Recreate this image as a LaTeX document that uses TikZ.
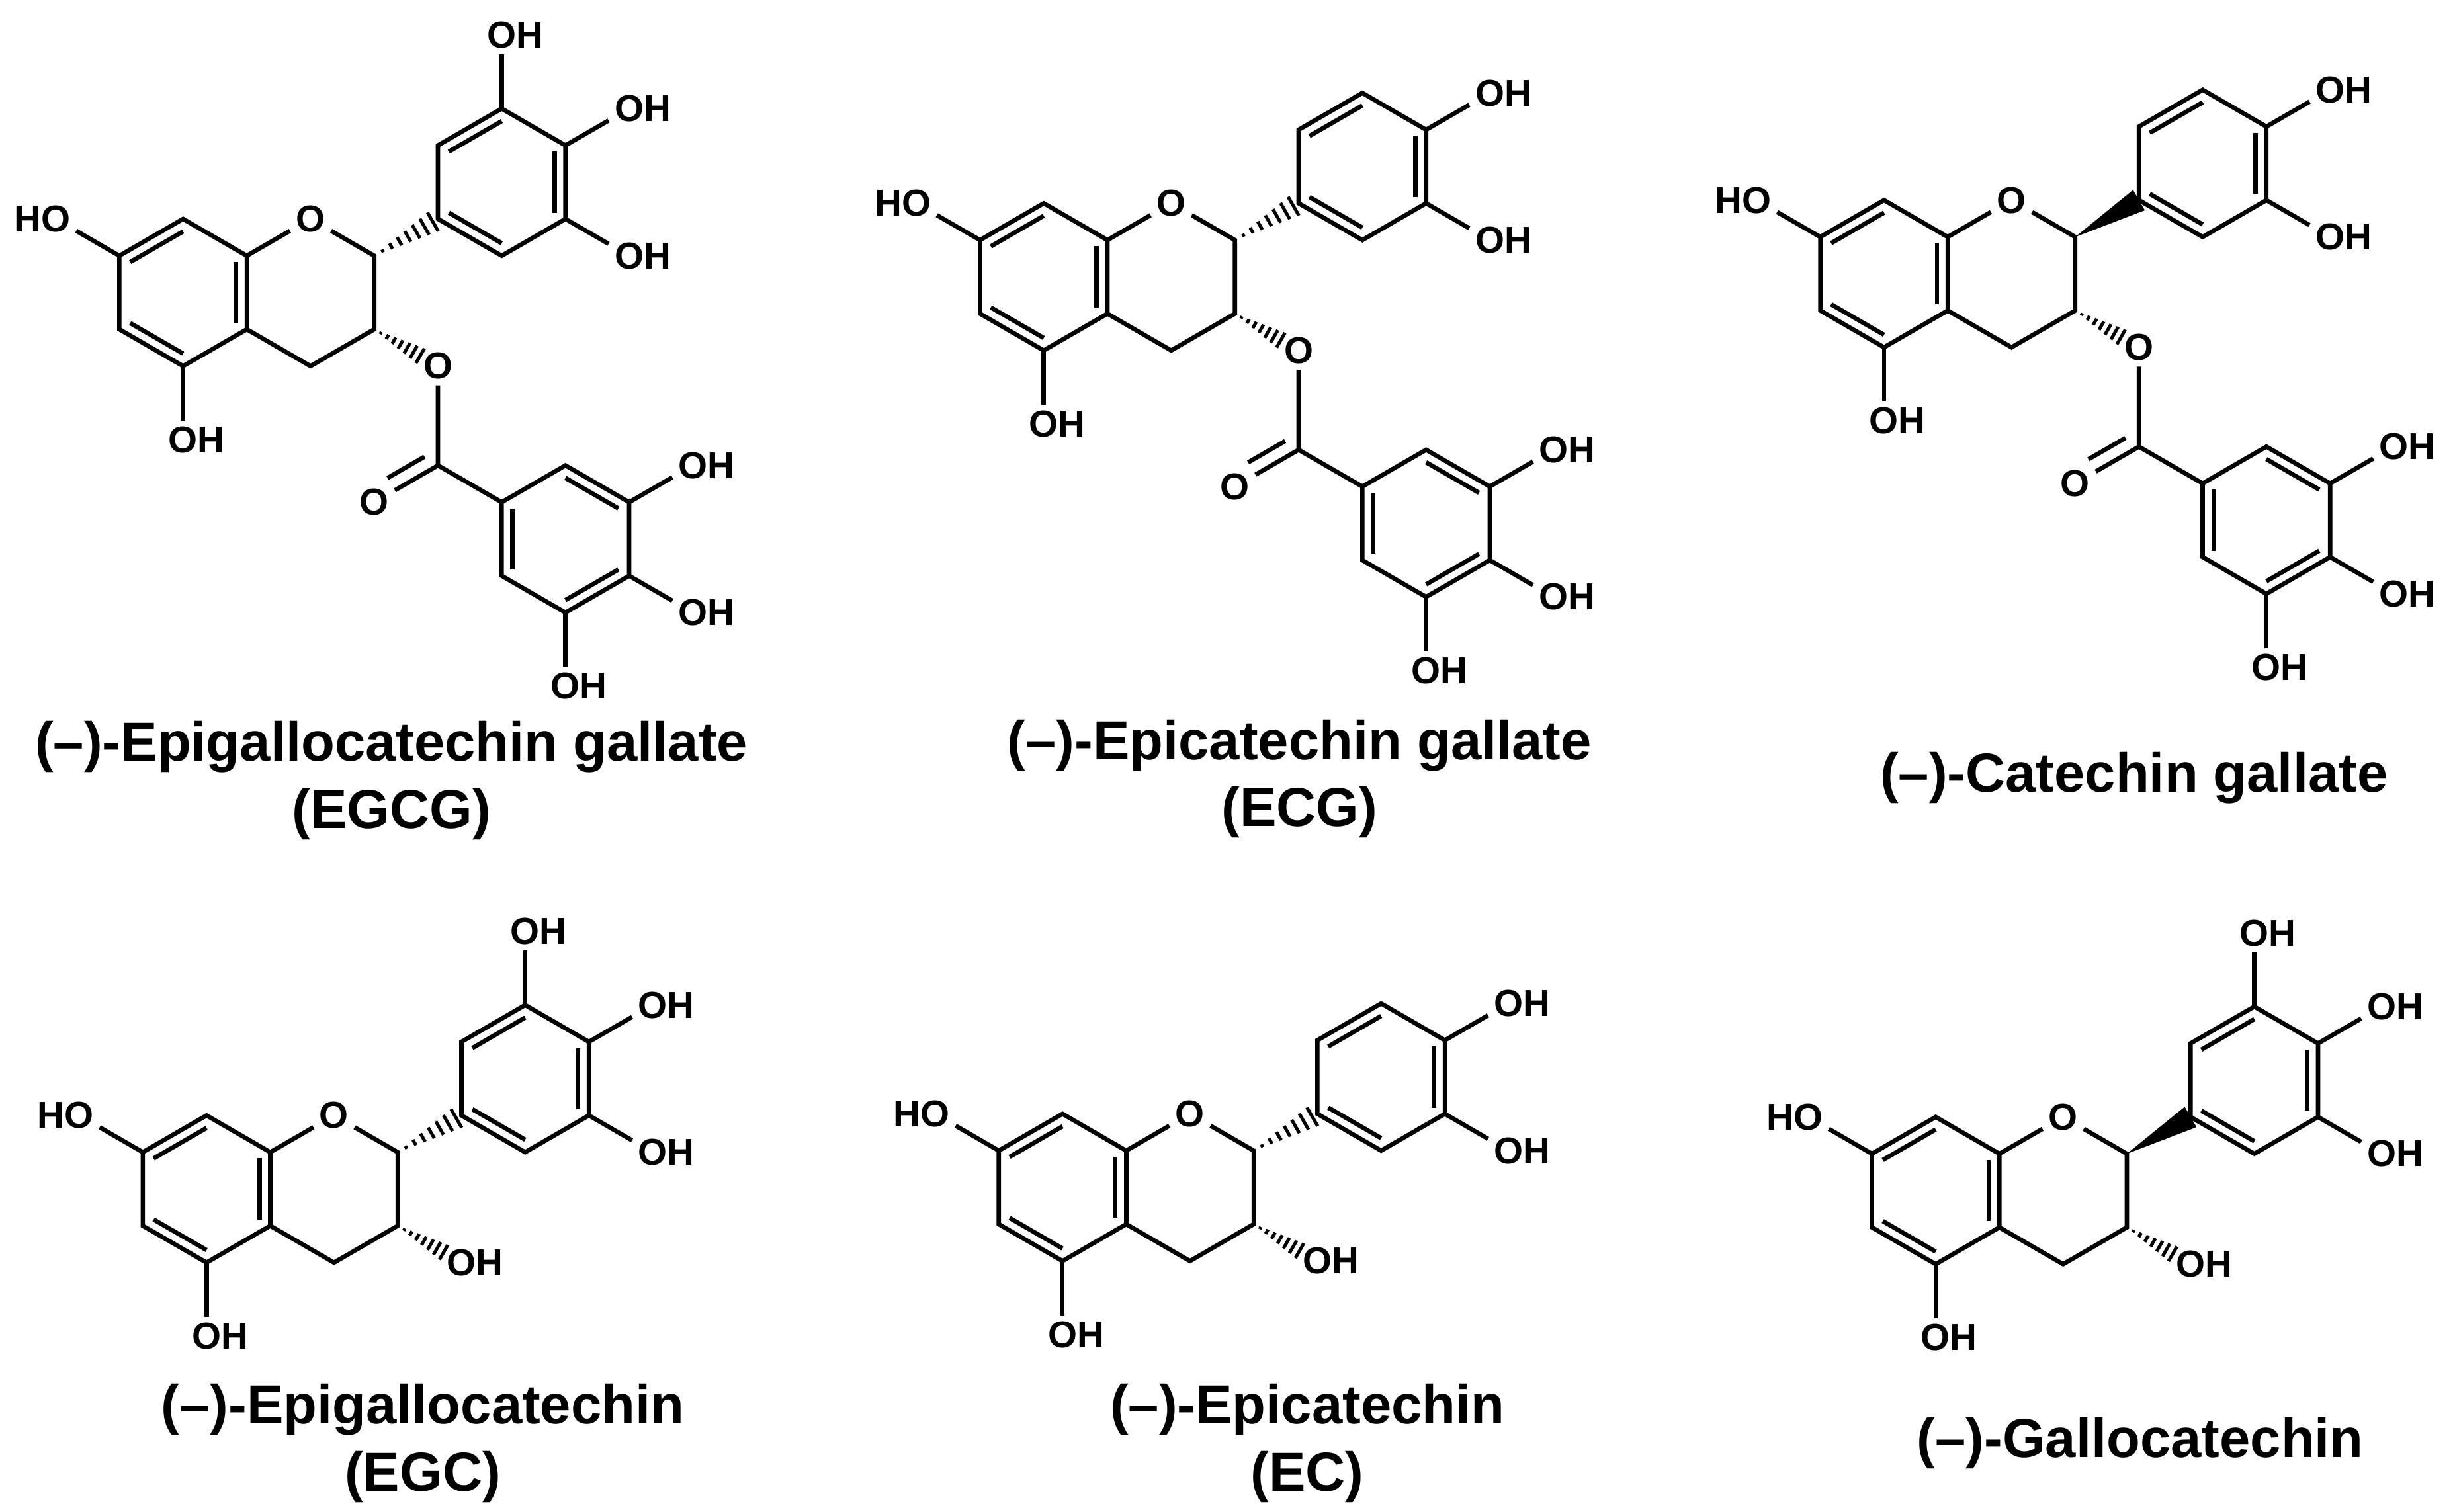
\documentclass[tikz,border=0pt]{standalone}
\usepackage{fontspec}
\setmainfont{Liberation Sans}
\usetikzlibrary{calc,positioning}

\tikzset{
  bond/.style={line width=0.8pt},
  atom/.style={inner sep=0.9pt, font=\fontsize{6.8}{7}\selectfont\bfseries},
  molname/.style={font=\fontsize{10}{12.2}\selectfont\bfseries, align=center},
}
\def\w{0.866}

% hashed bond from #1 (narrow) to #2 (wide), up to fraction #3
\newcommand\hashbond[3]{%
  \foreach \s in {1,...,7}{%
    \pgfmathsetmacro\ft{\s*#3/7}
    \draw[line width=0.6pt] ($(#1)!\ft!(#2)!{\ft*0.075cm}!90:(#2)$) -- ($(#1)!\ft!(#2)!{\ft*0.075cm}!-90:(#2)$);
  }}
% inner line of an aromatic double bond
\newcommand\dbl[3]{\draw[bond] ($(#1)!0.17!(#3)$) -- ($(#2)!0.17!(#3)$);}

% #1,#2 ring A centre; #3 gallo B ring; #4 gallate ester; #5 solid wedge at C2
\newcommand\catechin[5]{%
\begin{scope}[xshift=#1*0.01cm, yshift=-#2*0.01cm, x=0.47cm, y=0.47cm]
  % ring A
  \coordinate (ca) at (0,0);
  \coordinate (a1) at (0,1);
  \coordinate (a2) at (\w,0.5);
  \coordinate (a3) at (\w,-0.5);
  \coordinate (a4) at (0,-1);
  \coordinate (a5) at (-\w,-0.5);
  \coordinate (a6) at (-\w,0.5);
  \draw[bond] (a1) -- (a2) -- (a3) -- (a4) -- (a5) -- (a6) -- cycle;
  \dbl{a6}{a1}{ca} \dbl{a2}{a3}{ca} \dbl{a4}{a5}{ca}
  \node[atom] (o7) at (-2*\w,1) {\llap{H}O};
  \node[atom] (o5) at (0,-2) {O\rlap{H}};
  \draw[bond] (a6) -- (o7);
  \draw[bond] (a4) -- (o5);
  % ring C
  \node[atom] (o1) at (2*\w,1) {O};
  \coordinate (c2) at (3*\w,0.5);
  \coordinate (c3) at (3*\w,-0.5);
  \coordinate (c4) at (2*\w,-1);
  \draw[bond] (a2) -- (o1) -- (c2) -- (c3) -- (c4) -- (a3);
  % ring B
  \coordinate (cb) at (5*\w,1.5);
  \coordinate (b1) at (4*\w,1);
  \coordinate (b2) at (4*\w,2);
  \coordinate (b3) at (5*\w,2.5);
  \coordinate (b4) at (6*\w,2);
  \coordinate (b5) at (6*\w,1);
  \coordinate (b6) at (5*\w,0.5);
  \draw[bond] (b1) -- (b2) -- (b3) -- (b4) -- (b5) -- (b6) -- cycle;
  \dbl{b2}{b3}{cb} \dbl{b4}{b5}{cb} \dbl{b6}{b1}{cb}
  \ifnum#5=1
    \fill (c2) -- ($(b1)!0.075cm!90:(c2)$) -- ($(b1)!0.075cm!-90:(c2)$) -- cycle;
  \else
    \hashbond{c2}{b1}{0.92}
  \fi
  \node[atom] (o4p) at (7*\w,2.5) {O\rlap{H}};
  \node[atom] (o3p) at (7*\w,0.5) {O\rlap{H}};
  \draw[bond] (b4) -- (o4p);
  \draw[bond] (b5) -- (o3p);
  \ifnum#3=1
    \node[atom] (o5p) at (5*\w,3.5) {O\rlap{H}};
    \draw[bond] (b3) -- (o5p);
  \fi
  % position 3
  \ifnum#4=1
    \node[atom] (oe) at (4*\w,-1) {O};
    \hashbond{c3}{oe}{0.72}
    \coordinate (cc) at (4*\w,-2.35);
    \node[atom] (oc) at (3*\w,-2.85) {O};
    \draw[bond] (oe) -- (cc) -- (oc);
    \draw[bond] ($(cc)!0.1!(oc)!2.6pt!-90:(oc)$) -- ($(cc)!0.68!(oc)!2.6pt!-90:(oc)$);
    \coordinate (cg) at (6*\w,-3.35);
    \coordinate (g1) at (5*\w,-2.85);
    \coordinate (g2) at (6*\w,-2.35);
    \coordinate (g3) at (7*\w,-2.85);
    \coordinate (g4) at (7*\w,-3.85);
    \coordinate (g5) at (6*\w,-4.35);
    \coordinate (g6) at (5*\w,-3.85);
    \draw[bond] (cc) -- (g1);
    \draw[bond] (g1) -- (g2) -- (g3) -- (g4) -- (g5) -- (g6) -- cycle;
    \dbl{g2}{g3}{cg} \dbl{g4}{g5}{cg} \dbl{g6}{g1}{cg}
    \node[atom] (og3) at (8*\w,-2.35) {O\rlap{H}};
    \node[atom] (og4) at (8*\w,-4.35) {O\rlap{H}};
    \node[atom] (og5) at (6*\w,-5.35) {O\rlap{H}};
    \draw[bond] (g3) -- (og3);
    \draw[bond] (g4) -- (og4);
    \draw[bond] (g5) -- (og5);
  \else
    \node[atom] (oh3) at (4*\w,-1) {O\rlap{H}};
    \hashbond{c3}{oh3}{0.72}
  \fi
\end{scope}}

\begin{document}
\begin{tikzpicture}
  \useasboundingbox[fill=white] (0,0) rectangle (15.68,-9.655);
  % top row
  \catechin{117}{187}{1}{1}{0}
  \catechin{667}{177}{0}{1}{0}
  \catechin{1204}{175}{0}{1}{1}
  % bottom row
  \catechin{132}{760}{1}{0}{0}
  \catechin{679}{759}{0}{0}{0}
  \catechin{1237}{761}{1}{0}{1}
  % names
  \node[molname] (egcg) at (2.5,-4.985) {(--)-Epigallocatechin gallate\\(EGCG)};
  \node[molname] (ecg) at (8.3,-4.975) {(--)-Epicatechin gallate\\(ECG)};
  \node[molname] (cg) at (13.63,-4.97) {(--)-Catechin gallate};
  \node[molname] (egc) at (2.7,-9.22) {(--)-Epigallocatechin\\(EGC)};
  \node[molname] (ec) at (8.35,-9.22) {(--)-Epicatechin\\(EC)};
  \node[molname] (gc) at (13.67,-9.22) {(--)-Gallocatechin};
\end{tikzpicture}
\end{document}
